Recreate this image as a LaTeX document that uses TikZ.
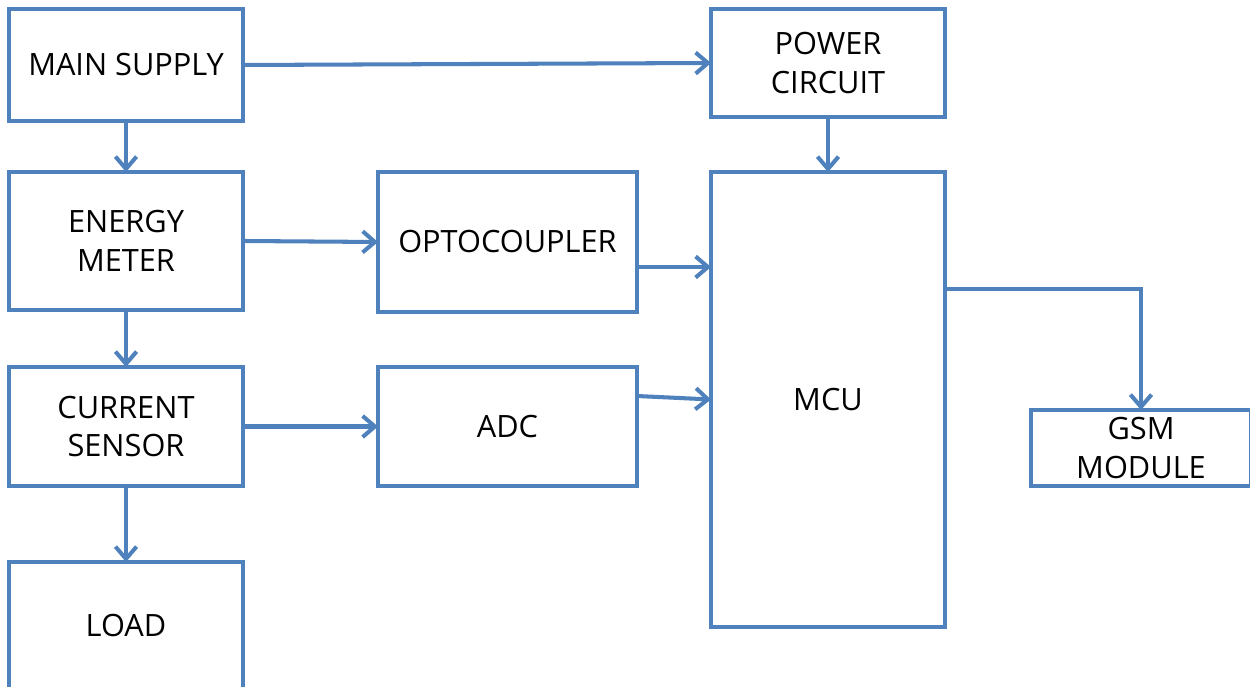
\documentclass[tikz,border=0pt]{standalone}
\usepackage{fontspec}
\setmainfont{Open Sans}
\usetikzlibrary{arrows.meta,calc}
\definecolor{lineblue}{HTML}{4F81BD}
\begin{document}
\begin{tikzpicture}[x=0.02cm,y=0.02cm,
  blk/.style={draw=lineblue, line width=2.3pt, fill=white, align=center, inner sep=0pt, outer sep=0pt,
    font=\fontsize{17.5}{22}\selectfont, text=black},
  conn/.style={draw=lineblue, line width=2.3pt, -{Straight Barb[length=7pt,width=12pt,line width=2.3pt]}}]
\useasboundingbox (0,0) rectangle (1250,686);
\fill[white] (0,0) rectangle (1250,686);
\node[blk, minimum width=4.68cm, minimum height=2.24cm] (main) at (126,621) {MAIN SUPPLY};
\node[blk, minimum width=4.68cm, minimum height=2.16cm] (power) at (828,623) {POWER\\CIRCUIT};
\node[blk, minimum width=4.68cm, minimum height=2.76cm] (energy) at (126,445) {ENERGY\\METER};
\node[blk, minimum width=5.18cm, minimum height=2.8cm] (opto) at (507.5,444) {OPTOCOUPLER};
\node[blk, minimum width=4.68cm, minimum height=9.1cm] (mcu) at (828,286.5) {MCU};
\node[blk, minimum width=4.68cm, minimum height=2.38cm] (current) at (126,259.5) {CURRENT\\SENSOR};
\node[blk, minimum width=5.18cm, minimum height=2.38cm] (adc) at (507.5,259.5) {ADC};
\node[blk, minimum width=4.4cm, minimum height=1.52cm] (gsm) at (1141,238) {GSM\\MODULE};
\node[blk, minimum width=4.68cm, minimum height=2.56cm] (load) at (126,60) {LOAD};
\coordinate (optoout) at ($(opto.east)+(0,-25)$);
\coordinate (adcout) at ($(adc.east)+(0,30.5)$);
\coordinate (mcuout) at ($(mcu.east)+(0,110.5)$);
\draw[conn] (main.east) -- (power.west);
\draw[conn] (main.south) -- (energy.north);
\draw[conn] (power.south) -- (mcu.north);
\draw[conn] (energy.east) -- (opto.west);
\draw[conn] (energy.south) -- (current.north);
\draw[conn] (optoout) -- (optoout -| mcu.west);
\draw[conn] (current.east) -- (adc.west);
\draw[conn] (adcout) -- (mcu.west);
\draw[conn] (current.south) -- (load.north);
\draw[conn] (mcuout) -| (gsm.north);
\end{tikzpicture}
\end{document}
